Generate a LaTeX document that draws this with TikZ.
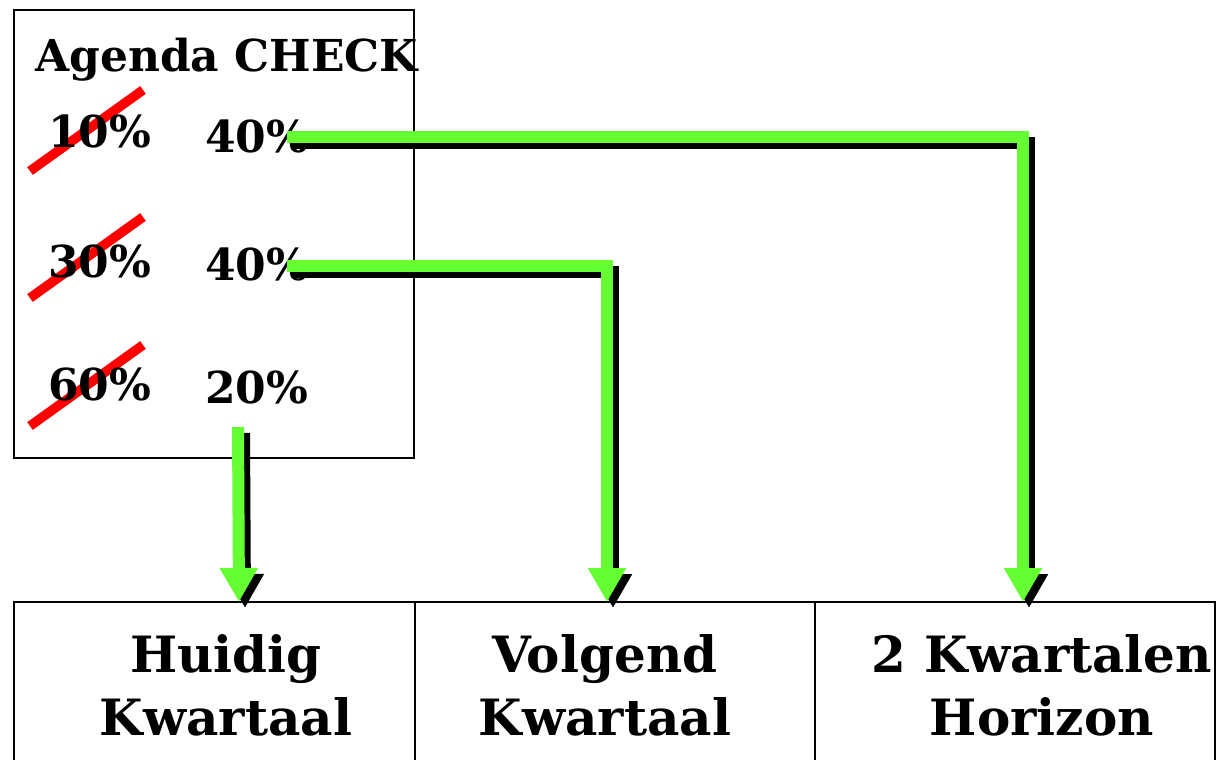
\documentclass[tikz,border=0pt]{standalone}
\usepackage{fontspec}
\setmainfont{DejaVu Serif}
\usepackage{xcolor}
\usetikzlibrary{arrows.meta,positioning}
\definecolor{flowgreen}{HTML}{66FF33}
\tikzset{>={Triangle[width=36pt,length=34pt]}}

\begin{document}
\begin{tikzpicture}[x=1pt,y=-1pt,
                    box/.style={draw, line width=1.2pt},
                    title/.style={font=\fontsize{44}{44}\selectfont\bfseries, anchor=base west, inner sep=0pt},
                    pct/.style={font=\fontsize{44}{44}\selectfont\bfseries, anchor=base west, inner sep=0pt},
                    period/.style={font=\fontsize{50}{63}\selectfont\bfseries, align=center},
                    strike/.style={red, line width=9.5pt},
                    flow/.style={flowgreen, line width=12pt, ->},
                    flowshadow/.style={black, line width=12pt, ->, transform canvas={xshift=6pt, yshift=-6pt}},
                   ]

\useasboundingbox (0,0) rectangle (1216,760);

% agenda box
\draw[box] (14,10) rectangle (414,458);

\draw[strike] (30,171) -- (143,90);
\draw[strike] (30,298) -- (143,217);
\draw[strike] (30,426) -- (143,345);

\node[title] (title) at (35,72) {Agenda CHECK};

\node[pct] (old1) at (48,147) {10\%};
\node[pct] (old2) at (48,277) {30\%};
\node[pct] (old3) at (48,400) {60\%};
\node[pct] (new1) at (205,152) {40\%};
\node[pct] (new2) at (205,280) {40\%};
\node[pct] (new3) at (205,403) {20\%};

% quarter boxes
\draw[box] (14,602) rectangle (415,780);
\draw[box] (415,602) rectangle (815,780);
\draw[box] (815,602) rectangle (1215,780);

\node[period] (huidig) at (226,685) {Huidig\\Kwartaal};
\node[period] (volgend) at (605,685) {Volgend\\Kwartaal};
\node[period] (horizon) at (1042,685) {2 Kwartalen\\Horizon};

\coordinate (start1) at (287,137);
\coordinate (start2) at (287,266);
\coordinate (start3) at (238,427);
\coordinate (tip1) at (1023,602);
\coordinate (tip2) at (607,602);
\coordinate (tip3) at (239,602);

% arrows with shadow
\draw[flowshadow] (start1) -| (tip1);
\draw[flowshadow] (start2) -| (tip2);
\draw[flowshadow] (start3) -- (tip3);
\draw[flow] (start1) -| (tip1);
\draw[flow] (start2) -| (tip2);
\draw[flow] (start3) -- (tip3);

\end{tikzpicture}
\end{document}
